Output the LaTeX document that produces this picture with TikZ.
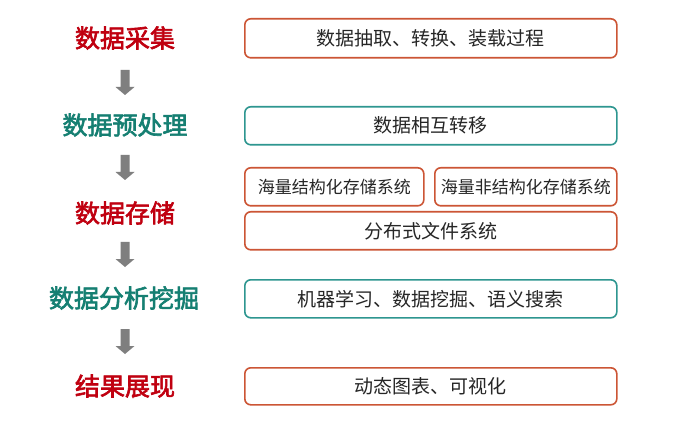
\documentclass[tikz,border=0pt]{standalone}
\usepackage{fontspec}
\setmainfont{Noto Sans CJK SC}
\newfontfamily\cjkbold{Noto Sans CJK SC}[FakeBold=2.5]
\definecolor{titlered}{HTML}{C00010}
\definecolor{titleteal}{HTML}{157F72}
\definecolor{boxred}{HTML}{CC5535}
\definecolor{boxteal}{HTML}{2E9690}
\definecolor{arrowgray}{HTML}{7F7F7F}
\definecolor{txt}{HTML}{262626}
\tikzset{
  x=1pt, y=-1pt,
  title/.style={font=\cjkbold\fontsize{25}{25}\selectfont, inner sep=0pt, anchor=center},
  redtitle/.style={title, text=titlered},
  tealtitle/.style={title, text=titleteal},
  box/.style={draw, line width=1.6pt, rounded corners=6pt, fill=white, text=txt,
    font=\fontsize{19}{19}\selectfont, inner sep=0pt},
  redbox/.style={box, draw=boxred},
  tealbox/.style={box, draw=boxteal},
  smallbox/.style={box, draw=boxred, font=\fontsize{17}{17}\selectfont},
  downarrow/.style={fill=arrowgray, draw=none},
}
\begin{document}
\begin{tikzpicture}
\useasboundingbox (0,0) rectangle (700,427);
\fill[white] (0,0) rectangle (700,427);

% left titles
\node[redtitle]  (t1) at (125,38)  {数据采集};
\node[tealtitle] (t2) at (125,125) {数据预处理};
\node[redtitle]  (t3) at (125,213) {数据存储};
\node[tealtitle] (t4) at (124,298) {数据分析挖掘};
\node[redtitle]  (t5) at (125,386) {结果展现};

% arrows (block)
\foreach \n/\ya in {a1/70, a2/155, a3/242, a4/329}{
  \fill[downarrow] (120.5,\ya) -- (129.5,\ya) -- (129.5,\ya+17) -- (134.5,\ya+17)
     -- (125,\ya+25) -- (115.5,\ya+17) -- (120.5,\ya+17) -- cycle;
}

% right boxes
\node[redbox, minimum width=372pt, minimum height=39pt, anchor=north west] (b1) at (244,18) {数据抽取、转换、装载过程};
\node[tealbox, minimum width=372pt, minimum height=38pt, anchor=north west] (b2) at (244,106) {数据相互转移};
\node[smallbox, minimum width=179pt, minimum height=38pt, anchor=north west] (b3a) at (244,167) {海量结构化存储系统};
\node[smallbox, minimum width=182pt, minimum height=38pt, anchor=north west] (b3b) at (434,167) {海量非结构化存储系统};
\node[redbox, minimum width=372pt, minimum height=38pt, anchor=north west] (b3c) at (244,211) {分布式文件系统};
\node[tealbox, minimum width=372pt, minimum height=38pt, anchor=north west] (b4) at (244,279) {机器学习、数据挖掘、语义搜索};
\node[redbox, minimum width=372pt, minimum height=37pt, anchor=north west] (b5) at (244,367) {动态图表、可视化};
\end{tikzpicture}
\end{document}
